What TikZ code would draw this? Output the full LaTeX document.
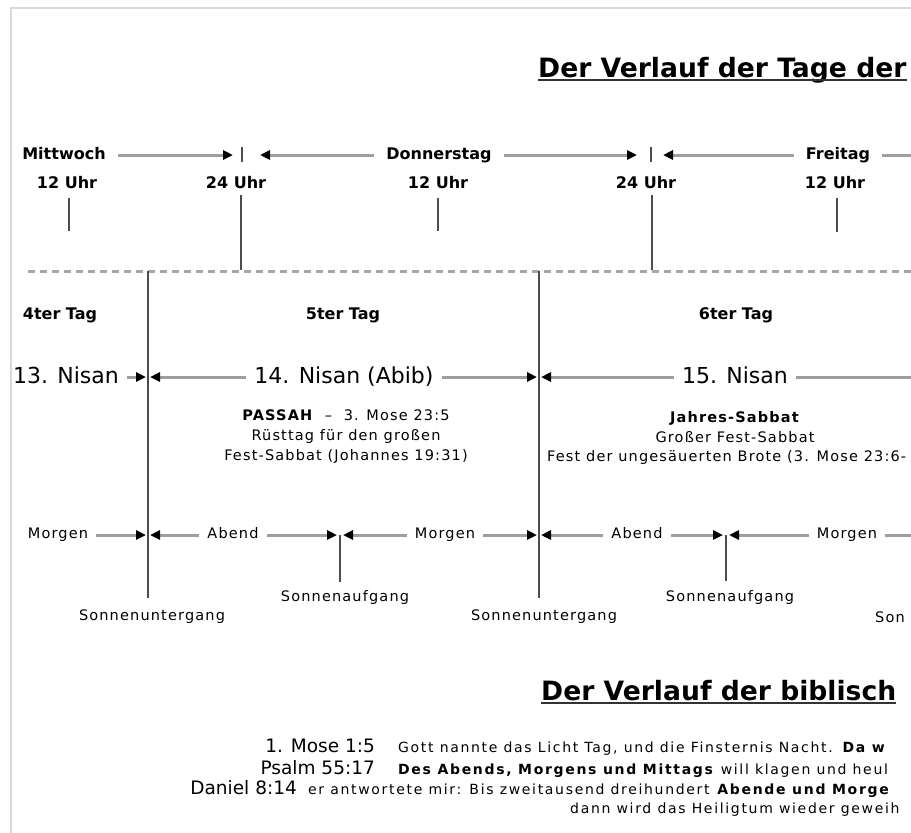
\documentclass[tikz,border=0pt]{standalone}
\usepackage{fontspec}
\setmainfont{DejaVu Sans}
\newfontfamily\lsfont[LetterSpace=8]{DejaVu Sans}
\newfontfamily\vsfont[LetterSpace=12]{DejaVu Sans}
\usetikzlibrary{positioning,calc,arrows.meta}

\begin{document}
\begin{tikzpicture}[x=1pt,y=-1pt,
 wd/.style={font=\fontsize{16}{20}\selectfont\bfseries,inner xsep=12pt,inner ysep=1pt,text height=11.5pt,text depth=3pt},
 hr/.style={font=\fontsize{16}{20}\selectfont\bfseries,inner sep=1pt},
 ns/.style={font=\fontsize{22}{26}\selectfont,inner xsep=8pt,inner ysep=1pt,text height=16pt,text depth=4pt},
 tz/.style={font=\fontsize{14.5}{20}\lsfont,inner xsep=8pt,inner ysep=1pt,text height=10.5pt,text depth=3pt},
 nt/.style={font=\fontsize{14.5}{20}\lsfont,align=center,inner sep=0pt},
 ttl/.style={font=\fontsize{26.6}{30}\selectfont\bfseries,inner sep=0pt,anchor=base west},
 vs/.style={font=\fontsize{14}{16}\vsfont,inner sep=0pt,anchor=base west},
 rf/.style={font=\fontsize{18.5}{20}\selectfont,inner sep=0pt,anchor=base east},
 ar/.style={line width=3pt,black!38,-{Triangle[length=10pt,width=9pt,color=black]}},
 ln/.style={line width=3pt,black!38},
 tk/.style={line width=1.6pt,black!70},
 ul/.style={line width=2pt,black!80}]
\useasboundingbox (0,0) rectangle (911,833);
\clip (0,0) rectangle (911,833);
\draw[line width=2pt,black!15] (11,840) |- (920,8);

% title
\node[ttl] (t1) at (538,77) {Der Verlauf der Tage der};
\draw[ul] ([yshift=-3pt]t1.base west) -- ([yshift=-3pt]t1.base east);

% weekdays and hours
\coordinate (d1) at (242,155);
\coordinate (d2) at (651,155);
\coordinate (rt) at (930,155);
\draw[tk] (242,147) -- (242,162);
\draw[tk] (651,147) -- (651,162);
\node[wd] (mi) at (64,155) {Mittwoch};
\node[wd] (do) at (439,155) {Donnerstag};
\node[wd] (fr) at (838,155) {Freitag};
\draw[ar] (mi) -- ([xshift=-9pt]d1);
\draw[ar] (do) -- ([xshift=18pt]d1);
\draw[ar] (do) -- ([xshift=-14pt]d2);
\draw[ar] (fr) -- ([xshift=12pt]d2);
\draw[ln] (fr) -- (rt);

\node[hr] (h1) at (67,183) {12 Uhr};
\node[hr] (h2) at (236,183) {24 Uhr};
\node[hr] (h3) at (438,183) {12 Uhr};
\node[hr] (h4) at (646,183) {24 Uhr};
\node[hr] (h5) at (835,183) {12 Uhr};
\draw[tk] (69,198) -- (69,231);
\draw[tk] (241,195) -- (241,270);
\draw[tk] (438,198) -- (438,231);
\draw[tk] (652,195) -- (652,270);
\draw[tk] (837,198) -- (837,232);

\draw[line width=3pt,black!35,dash pattern=on 7pt off 5pt] (28,271) -- (920,271);

% days
\draw[tk] (148,271) -- (148,598);
\draw[tk] (539,271) -- (539,598);
\node[hr] (g4) at (60,315) {4ter Tag};
\node[hr] (g5) at (343,315) {5ter Tag};
\node[hr] (g6) at (736,315) {6ter Tag};

\coordinate (c13) at (148,377);
\coordinate (c14) at (539,377);
\coordinate (cr) at (930,377);
\node[ns] (n13) at (66,377) {13. Nisan};
\node[ns] (n14) at (344,377) {14. Nisan (Abib)};
\node[ns] (n15) at (735,377) {15. Nisan};
\draw[ar] (n13) -- ([xshift=-2pt]c13);
\draw[ar] (n14) -- ([xshift=2pt]c13);
\draw[ar] (n14) -- ([xshift=-2pt]c14);
\draw[ar] (n15) -- ([xshift=2pt]c14);
\draw[ln] (n15) -- (cr);

\node[nt] (p14) at (346,437) {\textbf{PASSAH} ~–~ 3. Mose 23:5\\Rüsttag für den großen\\Fest-Sabbat (Johannes 19:31)};
\node[nt] (p15) at (735,427) {\textbf{Jahres-Sabbat}\\Großer Fest-Sabbat};
\node[nt,anchor=west] (p15b) at (547,457) {Fest der ungesäuerten Brote (3. Mose 23:6-};

% evening and morning
\coordinate (s1) at (148,535);
\coordinate (r1) at (340,535);
\coordinate (s2) at (539,535);
\coordinate (r2) at (726,535);
\coordinate (sr) at (930,535);
\draw[tk] (340,535) -- (340,582);
\draw[tk] (726,535) -- (726,581);
\node[tz] (m1) at (58,535) {Morgen};
\node[tz] (a1) at (233,535) {Abend};
\node[tz] (m2) at (445,535) {Morgen};
\node[tz] (a2) at (637,535) {Abend};
\node[tz] (m3) at (847,535) {Morgen};
\draw[ar] (m1) -- ([xshift=-2pt]s1);
\draw[ar] (a1) -- ([xshift=2pt]s1);
\draw[ar] (a1) -- ([xshift=-3pt]r1);
\draw[ar] (m2) -- ([xshift=3pt]r1);
\draw[ar] (m2) -- ([xshift=-2pt]s2);
\draw[ar] (a2) -- ([xshift=2pt]s2);
\draw[ar] (a2) -- ([xshift=-3pt]r2);
\draw[ar] (m3) -- ([xshift=3pt]r2);
\draw[ln] (m3) -- (sr);

\node[nt] (u1) at (152,617) {Sonnenuntergang};
\node[nt] (u2) at (544,617) {Sonnenuntergang};
\node[nt,anchor=west] (u3) at (875,617) {Son};
\node[nt] (o1) at (345,597) {Sonnenaufgang};
\node[nt] (o2) at (730,597) {Sonnenaufgang};

% second title and verses
\node[ttl] (t2) at (541,700) {Der Verlauf der biblisch};
\draw[ul] ([yshift=-3pt]t2.base west) -- ([yshift=-3pt]t2.base east);

\node[rf] (v1) at (375,752) {1. Mose 1:5};
\node[vs] (w1) at (398,752) {Gott nannte das Licht Tag, und die Finsternis Nacht. \textbf{Da w}};
\node[rf] (v2) at (375,774) {Psalm 55:17};
\node[vs] (w2) at (398,774) {\textbf{Des Abends, Morgens und Mittags} will klagen und heul};
\node[rf] (v3) at (297,794) {Daniel 8:14};
\node[vs] (w3) at (308,794) {er antwortete mir: Bis zweitausend dreihundert \textbf{Abende und Morge}};
\node[vs] (w4) at (570,813) {dann wird das Heiligtum wieder geweih};
\end{tikzpicture}
\end{document}
